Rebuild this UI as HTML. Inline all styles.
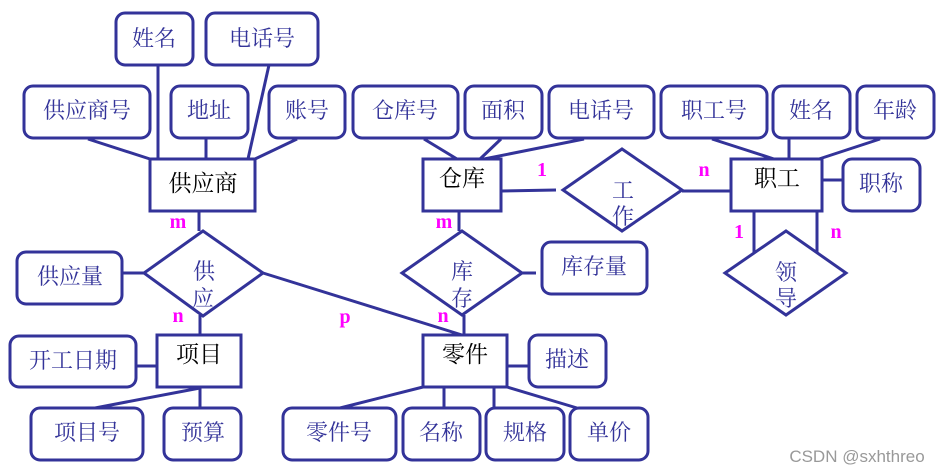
<!DOCTYPE html>
<html><head><meta charset="utf-8"><style>
html,body{margin:0;padding:0;background:#fff;width:943px;height:472px;overflow:hidden}
svg{display:block}
.a{fill:#fff;stroke:#333399;stroke-width:3}
.l{stroke:#333399;stroke-width:3;fill:none}
.t{font-family:"Liberation Serif","Noto Serif CJK SC",serif;font-size:22px;fill:#333399;text-anchor:middle}
.e{font-family:"Liberation Serif","Noto Serif CJK SC",serif;font-size:23px;fill:#000;text-anchor:middle}
.m{font-family:"Liberation Serif",serif;font-size:20px;font-weight:bold;fill:#ff00ff;text-anchor:middle}
</style></head><body>
<svg width="943" height="472" viewBox="0 0 943 472">
<g class="l">
<line x1="88" y1="139" x2="150" y2="159"/>
<line x1="158" y1="65" x2="158" y2="159"/>
<line x1="206" y1="139" x2="206" y2="159"/>
<line x1="269" y1="65" x2="248" y2="159"/>
<line x1="297" y1="139" x2="255" y2="159"/>
<line x1="424" y1="139" x2="457" y2="159"/>
<line x1="501" y1="139" x2="480" y2="159"/>
<line x1="584" y1="139" x2="484" y2="159"/>
<line x1="712" y1="139" x2="774" y2="159"/>
<line x1="789" y1="139" x2="789" y2="159"/>
<line x1="880" y1="139" x2="819" y2="159"/>
<line x1="822" y1="180" x2="843" y2="180"/>
<line x1="501" y1="191" x2="556" y2="190"/>
<line x1="682" y1="191" x2="731" y2="191"/>
<line x1="754" y1="211" x2="754" y2="253"/>
<line x1="817" y1="211" x2="817" y2="253"/>
<line x1="199" y1="211" x2="199" y2="231"/>
<line x1="459" y1="211" x2="459" y2="231"/>
<line x1="122" y1="273" x2="144" y2="273"/>
<line x1="522" y1="273" x2="536" y2="273"/>
<line x1="263" y1="273" x2="462" y2="335"/>
<line x1="200" y1="315" x2="200" y2="335"/>
<line x1="464" y1="315" x2="464" y2="335"/>
<line x1="136" y1="366" x2="157" y2="366"/>
<line x1="507" y1="366" x2="529" y2="366"/>
<line x1="95" y1="408" x2="200" y2="388"/>
<line x1="200" y1="387" x2="200" y2="408"/>
<line x1="340" y1="408" x2="423" y2="387"/>
<line x1="444" y1="387" x2="444" y2="408"/>
<line x1="494" y1="387" x2="494" y2="408"/>
<line x1="507" y1="387" x2="577" y2="408"/>
</g>
<g class="a">
<rect x="116" y="13" width="77" height="52" rx="9"/>
<rect x="206" y="13" width="112" height="52" rx="9"/>
<rect x="24" y="86" width="126" height="52" rx="9"/>
<rect x="171" y="86" width="77" height="52" rx="9"/>
<rect x="269" y="86" width="76" height="52" rx="9"/>
<rect x="353" y="86" width="105" height="52" rx="9"/>
<rect x="465" y="86" width="77" height="52" rx="9"/>
<rect x="549" y="86" width="105" height="52" rx="9"/>
<rect x="661" y="86" width="106" height="52" rx="9"/>
<rect x="773" y="86" width="77" height="52" rx="9"/>
<rect x="857" y="86" width="77" height="52" rx="9"/>
<rect x="843" y="159" width="77" height="52" rx="9"/>
<rect x="17" y="252" width="105" height="52" rx="9"/>
<rect x="542" y="242" width="105" height="52" rx="9"/>
<rect x="10" y="336" width="126" height="51" rx="9"/>
<rect x="529" y="335" width="77" height="52" rx="9"/>
<rect x="31" y="408" width="112" height="52" rx="9"/>
<rect x="164" y="408" width="77" height="52" rx="9"/>
<rect x="283" y="408" width="113" height="52" rx="9"/>
<rect x="403" y="408" width="77" height="52" rx="9"/>
<rect x="486" y="408" width="78" height="52" rx="9"/>
<rect x="570" y="408" width="78" height="52" rx="9"/>
<rect x="150" y="159" width="105" height="52"/>
<rect x="423" y="159" width="78" height="52"/>
<rect x="731" y="159" width="91" height="52"/>
<rect x="157" y="335" width="84" height="52"/>
<rect x="423" y="335" width="84" height="52"/>
<polygon points="203,231 263,273 203,316 144,273"/>
<polygon points="462,231 522,273 462,315 402,273"/>
<polygon points="622,149 682,190 622,231 563,190"/>
<polygon points="786,231 846,273 786,315 725,273"/>
</g>
<g class="t">
<text x="154" y="46">姓名</text>
<text x="262" y="46">电话号</text>
<text x="87" y="118">供应商号</text>
<text x="209" y="118">地址</text>
<text x="307" y="118">账号</text>
<text x="405" y="118">仓库号</text>
<text x="503" y="118">面积</text>
<text x="601" y="118">电话号</text>
<text x="714" y="118">职工号</text>
<text x="811" y="118">姓名</text>
<text x="895" y="118">年龄</text>
<text x="881" y="191">职称</text>
<text x="70" y="284">供应量</text>
<text x="594" y="274">库存量</text>
<text x="73" y="368">开工日期</text>
<text x="567" y="367">描述</text>
<text x="87" y="440">项目号</text>
<text x="203" y="440">预算</text>
<text x="339" y="440">零件号</text>
<text x="441" y="440">名称</text>
<text x="525" y="440">规格</text>
<text x="609" y="440">单价</text>
<text x="204" y="279">供</text><text x="203" y="306">应</text>
<text x="462" y="279">库</text><text x="462" y="306">存</text>
<text x="623" y="198">工</text><text x="623" y="224">作</text>
<text x="786" y="280">领</text><text x="786" y="306">导</text>
</g>
<g class="e">
<text x="203" y="191">供应商</text>
<text x="462" y="186">仓库</text>
<text x="777" y="186">职工</text>
<text x="199" y="362">项目</text>
<text x="465" y="362">零件</text>
</g>
<g class="m">
<text x="178" y="228">m</text>
<text x="444" y="228">m</text>
<text x="178" y="322">n</text>
<text x="345" y="323">p</text>
<text x="443" y="322">n</text>
<text x="542" y="176">1</text>
<text x="704" y="176">n</text>
<text x="739" y="238">1</text>
<text x="836" y="238">n</text>
</g>
<text x="857" y="462" font-family="Liberation Sans,sans-serif" font-size="17" fill="#999" text-anchor="middle">CSDN @sxhthreo</text>
</svg>
</body></html>
